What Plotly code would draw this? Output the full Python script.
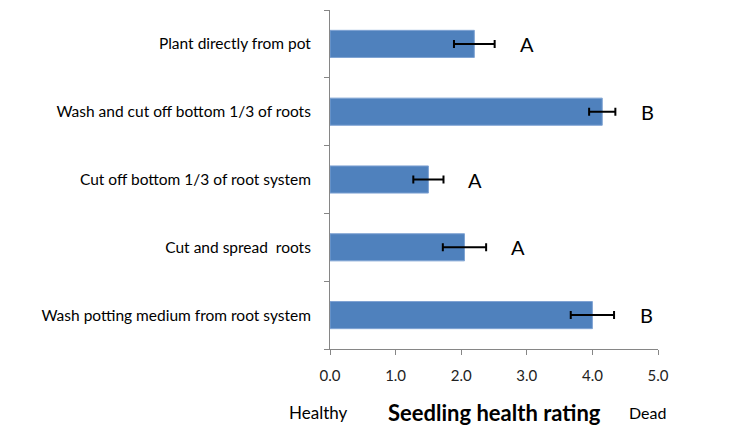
import plotly.graph_objects as go

categories = [
    "Plant directly from pot",
    "Wash and cut off bottom 1/3 of roots",
    "Cut off bottom 1/3 of root system",
    "Cut and spread  roots",
    "Wash potting medium from root system",
]
ratings = [2.2, 4.15, 1.5, 2.05, 4.0]
errors = [0.31, 0.2, 0.23, 0.33, 0.33]
letters = ["A", "B", "A", "A", "B"]
x_ticks = [0, 1, 2, 3, 4, 5]

FONT = "Lato, Open Sans, sans-serif"
AXIS = "#868686"

fig = go.Figure()
fig.add_trace(go.Bar(
    y=categories, x=ratings, orientation="h",
    marker=dict(color="#4F81BD", line=dict(color="#7FA3D3", width=1)),
    width=0.4,
    error_x=dict(type="data", array=errors, visible=True, color="black",
                 thickness=2, width=4),
    showlegend=False,
))

for c, v, e, l in zip(categories, ratings, errors, letters):
    fig.add_annotation(x=v + e, y=c, text=l, showarrow=False, xshift=32,
                       xanchor="center", yanchor="middle",
                       font=dict(family=FONT, size=20, color="black"))

fig.add_annotation(x=-0.034, y=0, xref="paper", yref="paper", yshift=-63,
                   text="Healthy", showarrow=False, xanchor="center", yanchor="middle",
                   font=dict(family=FONT, size=17, color="black"))
fig.add_annotation(x=0.5, y=0, xref="paper", yref="paper", yshift=-63,
                   text="<b>Seedling health rating</b>", showarrow=False,
                   xanchor="center", yanchor="middle",
                   font=dict(family=FONT, size=22, color="black"))
fig.add_annotation(x=0.967, y=0, xref="paper", yref="paper", yshift=-63,
                   text="Dead", showarrow=False, xanchor="center", yanchor="middle",
                   font=dict(family=FONT, size=16, color="black"))

fig.update_layout(
    width=737, height=439,
    margin=dict(l=322, r=87, t=2, b=98),
    paper_bgcolor="white", plot_bgcolor="white",
    font=dict(family=FONT, size=15, color="black"),
    xaxis=dict(range=[0, 5], tickvals=x_ticks, tickformat=".1f",
               showgrid=False, zeroline=False, showline=True, linecolor=AXIS,
               linewidth=1, ticks="outside", ticklen=5, tickcolor=AXIS,
               tickfont=dict(family=FONT, size=15, color="#222222"),
               ticklabelstandoff=8),
    yaxis=dict(categoryorder="array", categoryarray=categories[::-1],
               showgrid=False, zeroline=False, showline=True, linecolor=AXIS,
               linewidth=1, ticks="outside", ticklen=5, tickcolor=AXIS,
               tickson="boundaries",
               tickfont=dict(family=FONT, size=15.5, color="black"),
               ticklabelstandoff=15),
)

fig.write_html("out.html")
